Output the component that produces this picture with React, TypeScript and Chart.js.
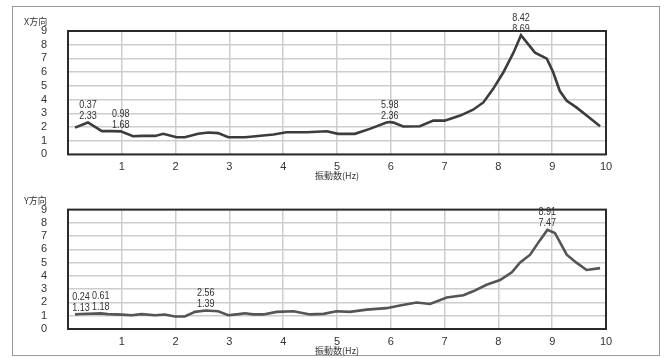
import React, { useEffect, useRef } from 'react';
import { Chart, registerables } from 'chart.js';

Chart.register(...registerables);

// X direction response
const X_FREQ = [0.13, 0.37, 0.63, 0.81, 0.98, 1.21, 1.37, 1.62, 1.77, 2.02, 2.17, 2.42, 2.61, 2.79, 2.98, 3.29, 3.44, 3.82, 4.06, 4.44, 4.81, 5.02, 5.33, 5.61, 5.92, 5.98, 6.05, 6.23, 6.54, 6.79, 7.0, 7.29, 7.53, 7.72, 7.9, 8.09, 8.28, 8.42, 8.68, 8.9, 9.02, 9.14, 9.27, 9.45, 9.64, 9.89];
const X_AMP = [1.95, 2.33, 1.7, 1.7, 1.68, 1.32, 1.35, 1.35, 1.5, 1.25, 1.25, 1.5, 1.6, 1.55, 1.25, 1.25, 1.31, 1.45, 1.62, 1.62, 1.69, 1.5, 1.5, 1.86, 2.32, 2.36, 2.32, 2.04, 2.05, 2.46, 2.46, 2.83, 3.26, 3.79, 4.76, 5.97, 7.42, 8.69, 7.42, 6.98, 5.97, 4.64, 3.91, 3.43, 2.83, 2.05];
const X_PEAK_FREQ = [0.37, 0.98, 5.98, 8.42];
const X_PEAK_AMP = [2.33, 1.68, 2.36, 8.69];

// Y direction response
const Y_FREQ = [0.13, 0.24, 0.61, 0.74, 1.0, 1.18, 1.37, 1.62, 1.8, 1.99, 2.17, 2.36, 2.56, 2.79, 2.98, 3.17, 3.29, 3.44, 3.63, 3.88, 4.19, 4.5, 4.75, 4.99, 5.24, 5.55, 5.92, 6.17, 6.48, 6.73, 7.04, 7.35, 7.53, 7.78, 8.03, 8.25, 8.4, 8.59, 8.77, 8.91, 9.05, 9.27, 9.45, 9.64, 9.89];
const Y_AMP = [1.1, 1.13, 1.18, 1.12, 1.08, 1.04, 1.12, 1.04, 1.09, 0.94, 0.94, 1.29, 1.39, 1.34, 1.04, 1.12, 1.19, 1.1, 1.1, 1.29, 1.34, 1.1, 1.14, 1.34, 1.29, 1.46, 1.57, 1.77, 2.0, 1.89, 2.37, 2.54, 2.84, 3.33, 3.69, 4.28, 5.0, 5.6, 6.68, 7.47, 7.24, 5.6, 5.0, 4.45, 4.59];
const Y_PEAK_FREQ = [0.24, 0.61, 2.56, 8.91];
const Y_PEAK_AMP = [1.13, 1.18, 1.39, 7.47];

const X_TICKS = [0, 1, 2, 3, 4, 5, 6, 7, 8, 9, 10];
const Y_TICKS = [0, 1, 2, 3, 4, 5, 6, 7, 8, 9];

const FONT = "'Liberation Sans', Arial, sans-serif";
const CJK = "'Noto Sans CJK JP', 'Noto Sans CJK SC', sans-serif";

type Props = {
  freq: number[];
  amp: number[];
  peakFreq: number[];
  peakAmp: number[];
  title: string;
  height: number;
  padTop: number;
  axisHeight: number;
  tickPad: number;
  titlePadBottom: number;
  lineColor: string;
  top: number;
};

function condensedText(ctx: CanvasRenderingContext2D, text: string, x: number, y: number) {
  ctx.save();
  ctx.translate(x, y);
  ctx.scale(0.82, 1);
  ctx.fillText(text, 0, 0);
  ctx.restore();
}

function FreqChart(p: Props) {
  const ref = useRef<HTMLCanvasElement | null>(null);
  useEffect(() => {
    if (!ref.current) return;
    const overlay = {
      id: 'overlay',
      afterDraw(chart: any) {
        const { ctx, chartArea, scales } = chart;
        ctx.save();
        ctx.strokeStyle = '#2b2b2b';
        ctx.lineWidth = 2;
        ctx.strokeRect(chartArea.left, chartArea.top, chartArea.right - chartArea.left, chartArea.bottom - chartArea.top);
        ctx.fillStyle = '#333';
        ctx.font = `11px ${FONT}`;
        ctx.textAlign = 'center';
        ctx.textBaseline = 'bottom';
        p.peakFreq.forEach((f, i) => {
          const x = scales.x.getPixelForValue(f);
          const y = scales.y.getPixelForValue(p.peakAmp[i]);
          condensedText(ctx, p.peakAmp[i].toFixed(2), x, y - 1);
          condensedText(ctx, f.toFixed(2), x, y - 12);
        });
        ctx.textAlign = 'left';
        ctx.textBaseline = 'middle';
        ctx.font = `9px ${CJK}`;
        ctx.fillText(p.title, chartArea.left - 44, chartArea.top - 9);
        ctx.restore();
      },
    };
    const chart = new Chart(ref.current, {
      type: 'line',
      data: {
        datasets: [
          {
            data: p.freq.map((f, i) => ({ x: f, y: p.amp[i] })),
            borderColor: p.lineColor,
            borderWidth: 2.6,
            pointRadius: 0,
            tension: 0,
            fill: false,
          },
        ],
      },
      options: {
        animation: false,
        responsive: false,
        maintainAspectRatio: false,
        layout: { padding: { top: p.padTop, right: 59, bottom: 0, left: 0 } },
        plugins: { legend: { display: false }, tooltip: { enabled: false }, title: { display: false } },
        scales: {
          x: {
            type: 'linear',
            min: 0,
            max: 10,
            afterFit: (s: any) => {
              s.height = p.axisHeight;
            },
            afterBuildTicks: (s: any) => {
              s.ticks = X_TICKS.map((v) => ({ value: v }));
            },
            grid: { color: '#cdcdcd', lineWidth: 1.5, drawTicks: false },
            border: { display: false },
            ticks: {
              padding: p.tickPad,
              color: '#333',
              font: { family: FONT, size: 11 },
              maxRotation: 0,
              autoSkip: false,
              callback: (v: any) => (v === 0 ? '' : String(v)),
            },
            title: {
              display: true,
              text: '振動数(Hz)',
              color: '#333',
              font: { family: CJK, size: 9 },
              padding: { top: 0, bottom: p.titlePadBottom },
            },
          },
          y: {
            min: 0,
            max: 9,
            afterFit: (s: any) => {
              s.width = 68;
            },
            afterBuildTicks: (s: any) => {
              s.ticks = Y_TICKS.map((v) => ({ value: v }));
            },
            grid: { color: '#cdcdcd', lineWidth: 1.5, drawTicks: false },
            border: { display: false },
            ticks: {
              padding: 21,
              color: '#333',
              autoSkip: false,
              font: { family: FONT, size: 11 },
              callback: (v: any) => String(v),
            },
          },
        },
      },
      plugins: [overlay],
    } as any);
    return () => chart.destroy();
  }, []);
  return (
    <canvas
      ref={ref}
      width={665}
      height={p.height}
      style={{ position: 'absolute', left: 0, top: p.top, width: 665, height: p.height, display: 'block' }}
    />
  );
}

export default function App() {
  return (
    <div style={{ position: 'absolute', left: 0, top: 0, width: 665, height: 358, background: '#fff', overflow: 'hidden' }}>
      <div
        style={{
          position: 'absolute',
          left: 12,
          top: 6,
          width: 648,
          height: 350,
          border: '1px solid #9a9a9a',
          boxSizing: 'border-box',
        }}
      />
      <FreqChart
        freq={X_FREQ}
        amp={X_AMP}
        peakFreq={X_PEAK_FREQ}
        peakAmp={X_PEAK_AMP}
        title="X方向"
        height={182}
        top={0}
        padTop={31}
        axisHeight={27}
        tickPad={6}
        titlePadBottom={0}
        lineColor="#3c3c3c"
      />
      <FreqChart
        freq={Y_FREQ}
        amp={Y_AMP}
        peakFreq={Y_PEAK_FREQ}
        peakAmp={Y_PEAK_AMP}
        title="Y方向"
        height={176}
        top={182}
        padTop={22}
        axisHeight={29}
        tickPad={6}
        titlePadBottom={1.6}
        lineColor="#555555"
      />
    </div>
  );
}
